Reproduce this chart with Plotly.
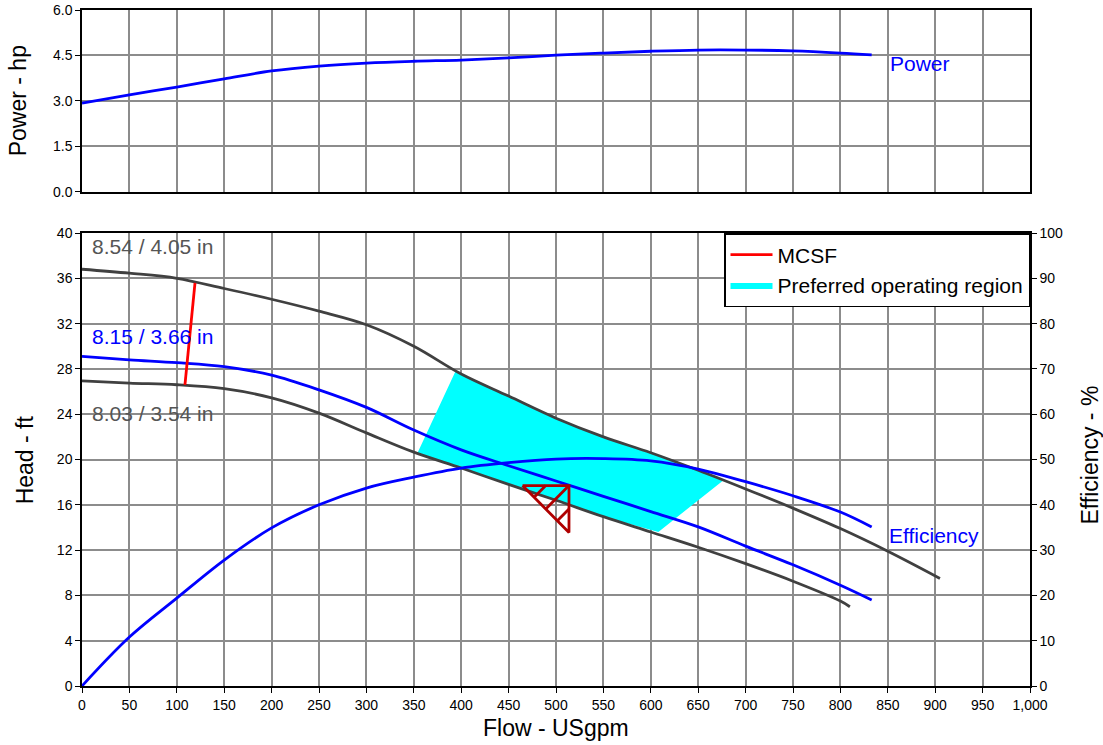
import plotly.graph_objects as go
from plotly.subplots import make_subplots

# flow points (USgpm) for the curves
flow = [0, 50, 100, 150, 200, 250, 300, 350, 400, 450, 500, 550, 600, 650, 700, 750, 800]

head_854 = [36.8, 36.45, 36.0, 35.1, 34.15, 33.1, 31.9, 30.0, 27.55, 25.6, 23.65, 22.0, 20.6, 19.05, 17.4, 15.7, 13.9]
head_854_end = [(850, 11.9), (905, 9.5)]

head_815 = [29.1, 28.8, 28.55, 28.2, 27.45, 26.15, 24.6, 22.6, 20.85, 19.45, 18.1, 16.75, 15.4, 14.05, 12.35, 10.7, 8.9]
head_815_end = [(833, 7.6)]

head_803 = [26.95, 26.75, 26.6, 26.25, 25.45, 24.1, 22.35, 20.65, 19.25, 17.8, 16.4, 14.95, 13.6, 12.25, 10.8, 9.25, 7.5]
head_803_end = [(810, 7.0)]

eff = [0, 10.8, 19.4, 27.8, 34.9, 40.0, 43.7, 46.1, 48.1, 49.3, 50.1, 50.2, 49.7, 47.9, 45.1, 42.0, 38.4]
eff_end = [(833, 35.1)]

power = [2.93, 3.2, 3.46, 3.73, 3.99, 4.15, 4.25, 4.31, 4.35, 4.42, 4.51, 4.58, 4.64, 4.68, 4.68, 4.65, 4.58]
power_end = [(833, 4.52)]

mcsf_flow = [108.6, 119.2]
mcsf_head = [26.6, 35.6]

region_flow = [394, 450, 500, 550, 600, 650, 677, 608, 550, 500, 450, 400, 354, 394]
region_head = [27.8, 25.6, 23.65, 22.0, 20.6, 19.05, 18.2, 13.6, 14.95, 16.4, 17.8, 19.25, 20.6, 27.8]

duty_flow, duty_head = 513.7, 17.7
duty_dq, duty_dh = 49.0, 4.15

BLUE = '#0000FF'
DARK = '#404040'
GRID = '#8c8c8c'
FONT = 'Liberation Sans, Arial, sans-serif'
LW = 2.8


def ext(xs, ys, tail):
    return xs + [p[0] for p in tail], ys + [p[1] for p in tail]


fig = make_subplots(
    rows=2, cols=1, shared_xaxes=False,
    specs=[[{}], [{'secondary_y': True}]],
)

# power
x, y = ext(flow, power, power_end)
fig.add_trace(go.Scatter(x=x, y=y, mode='lines', line=dict(color=BLUE, width=LW, shape='spline'),
                         showlegend=False, hoverinfo='skip'), row=1, col=1)

# preferred operating region
fig.add_trace(go.Scatter(x=region_flow, y=region_head, mode='lines', fill='toself',
                         fillcolor='#00FFFF', line=dict(width=0, color='#00FFFF'),
                         name='Preferred operating region', showlegend=True), row=2, col=1)

# impeller curves
for h, tail, col in [(head_854, head_854_end, DARK), (head_815, head_815_end, BLUE), (head_803, head_803_end, DARK)]:
    x, y = ext(flow, h, tail)
    fig.add_trace(go.Scatter(x=x, y=y, mode='lines', line=dict(color=col, width=LW, shape='spline'),
                             showlegend=False, hoverinfo='skip'), row=2, col=1)

# efficiency
x, y = ext(flow, eff, eff_end)
fig.add_trace(go.Scatter(x=x, y=y, mode='lines', line=dict(color=BLUE, width=LW, shape='spline'),
                         showlegend=False, hoverinfo='skip'), row=2, col=1, secondary_y=True)

# MCSF
fig.add_trace(go.Scatter(x=mcsf_flow, y=mcsf_head, mode='lines', line=dict(color='#FF0000', width=LW),
                         name='MCSF', showlegend=True), row=2, col=1)

# duty point symbol
q0, q1 = duty_flow - duty_dq, duty_flow
h1, h0 = duty_head, duty_head - duty_dh
qm, hm = (q0 + q1) / 2, (h0 + h1) / 2
tri_x = [q0, q1, q1, q0, None,
         q0 + duty_dq / 4, qm, None,
         qm, q1, None,
         q0 + 3 * duty_dq / 4, q1]
tri_y = [h1, h1, h0, h1, None,
         h1 - duty_dh / 4, h1, None,
         hm, h1, None,
         h1 - 3 * duty_dh / 4, hm]
fig.add_trace(go.Scatter(x=tri_x, y=tri_y, mode='lines', line=dict(color='#B00000', width=LW),
                         showlegend=False, hoverinfo='skip'), row=2, col=1)

axis_common = dict(showline=True, linecolor='black', linewidth=1.5, showgrid=True,
                   gridcolor=GRID, gridwidth=1.5, zeroline=False, automargin=False,
                   tickfont=dict(family=FONT, size=14, color='black'))

fig.update_xaxes(range=[0, 1000], dtick=50, mirror=True, **axis_common)
fig.update_xaxes(row=1, col=1, showticklabels=False, ticks='')
fig.update_xaxes(row=2, col=1, ticks='outside', ticklen=5, tickcolor='black', tickformat=',d')

fig.update_yaxes(row=1, col=1, range=[0, 6], tick0=0, dtick=1.5, tickformat='.1f', mirror=True,
                 ticks='outside', ticklen=5, tickcolor='black', ticklabeloverflow='allow', **axis_common)
fig.update_yaxes(row=2, col=1, secondary_y=False, range=[0, 40], dtick=4, mirror=False,
                 ticks='outside', ticklen=5, tickcolor='black', **axis_common)
fig.update_yaxes(row=2, col=1, secondary_y=True, range=[0, 100], dtick=10, showgrid=False,
                 showline=True, linecolor='black', linewidth=1.5, zeroline=False, automargin=False,
                 ticks='outside', ticklen=5, tickcolor='black',
                 tickfont=dict(family=FONT, size=14, color='black'))

fig.update_layout(
    width=1103, height=745,
    margin=dict(l=82, r=73, t=10, b=59),
    paper_bgcolor='white', plot_bgcolor='white',
    font=dict(family=FONT, color='black'),
    xaxis=dict(domain=[0, 1]),
    xaxis2=dict(domain=[0, 1]),
    yaxis=dict(domain=[0.7308, 1.0]),
    yaxis2=dict(domain=[0.0, 0.6701]),
    yaxis3=dict(domain=[0.0, 0.6701]),
    legend=dict(x=1.0, xanchor='right', y=0.6701, yanchor='top', bgcolor='white',
                bordercolor='black', borderwidth=1.5, font=dict(family=FONT, size=21, color='black'),
                traceorder='reversed', tracegroupgap=0, itemwidth=42),
    hovermode=False,
)

# axis titles
titles = [
    ('Power - hp', -0.0675, 0.865, -90),
    ('Head - ft', -0.060, 0.334, -90),
    ('Efficiency - %', 1.063, 0.342, -90),
    ('Flow - USgpm', 0.5, -0.062, 0),
]
for txt, px, py, ang in titles:
    fig.add_annotation(x=px, y=py, xref='paper', yref='paper', text=txt, showarrow=False,
                       textangle=ang, xanchor='center', yanchor='middle',
                       font=dict(family=FONT, size=23, color='black'))

labels = [
    ('8.54 / 4.05 in', 8, 38.85, '#555555'),
    ('8.15 / 3.66 in', 8, 30.9, BLUE),
    ('8.03 / 3.54 in', 8, 24.1, '#555555'),
    ('Efficiency', 849, 13.3, BLUE),
]
for txt, xq, yh, c in labels:
    fig.add_annotation(x=xq, y=yh, xref='x2', yref='y2', text=txt, showarrow=False, xanchor='left',
                       yanchor='middle', font=dict(family=FONT, size=21, color=c))
fig.add_annotation(x=850, y=4.25, xref='x', yref='y', text='Power', showarrow=False, xanchor='left',
                   yanchor='middle', font=dict(family=FONT, size=21, color=BLUE))

# drop the page's default body margin so the figure sits at the window's corner
fig.write_html('out.html', config={'displayModeBar': False},
               post_script="document.body.style.margin = '0px';")
